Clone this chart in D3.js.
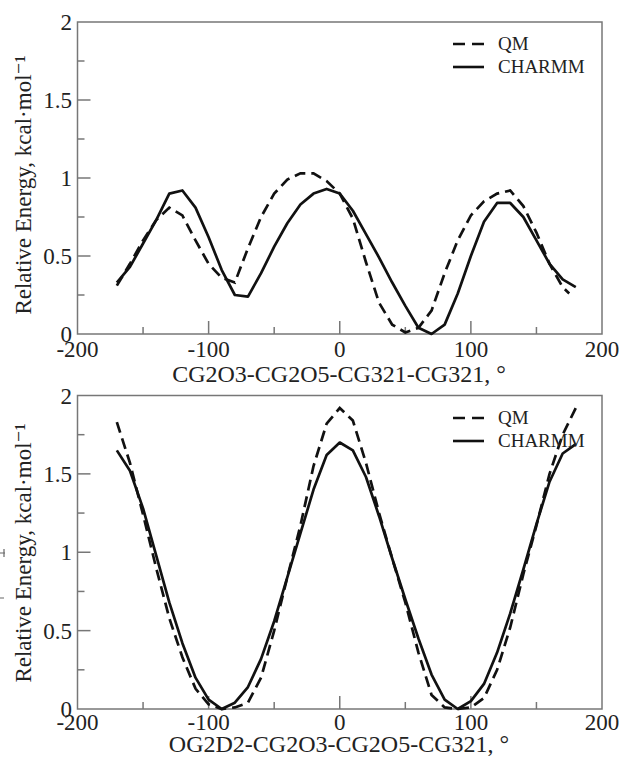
<!DOCTYPE html>
<html>
<head>
<meta charset="utf-8">
<script src="https://cdn.jsdelivr.net/npm/d3@7"></script>
<style>
  body { margin: 0; background: #fff; }
  svg text { font-family: "Liberation Serif", "Times New Roman", Times, "DejaVu Serif", serif; fill: #222; }
</style>
</head>
<body>
<div id="chart"></div>
<script>
// torsion angles, degrees
var angTop = [-170, -160, -150, -140, -130, -120, -110, -100, -90, -80, -70, -60, -50, -40, -30, -20, -10,
  0, 10, 20, 30, 40, 50, 60, 70, 80, 90, 100, 110, 120, 130, 140, 150, 160, 170];
var qmTopAng = angTop.concat([175]);
var qmTop = [0.31, 0.45, 0.60, 0.73, 0.81, 0.76, 0.60, 0.45, 0.36, 0.33, 0.55, 0.75, 0.90, 0.99, 1.03, 1.03, 0.98,
  0.90, 0.74, 0.46, 0.20, 0.06, 0.01, 0.04, 0.15, 0.39, 0.60, 0.76, 0.85, 0.90, 0.92, 0.82, 0.65, 0.45, 0.30, 0.26];
var chTopAng = angTop.concat([180]);
var chTop = [0.33, 0.43, 0.58, 0.73, 0.90, 0.92, 0.81, 0.62, 0.41, 0.25, 0.24, 0.39, 0.56, 0.71, 0.83, 0.90, 0.93,
  0.90, 0.79, 0.64, 0.49, 0.33, 0.18, 0.04, 0.00, 0.06, 0.26, 0.50, 0.72, 0.84, 0.84, 0.75, 0.60, 0.45, 0.35, 0.30];

var angBot = [-170, -160, -150, -140, -130, -120, -110, -100, -90, -80, -70, -60, -50, -40, -30, -20, -10,
  0, 10, 20, 30, 40, 50, 60, 70, 80, 90, 100, 110, 120, 130, 140, 150, 160, 170, 180];
var qmBot = [1.83, 1.57, 1.24, 0.90, 0.58, 0.33, 0.13, 0.03, 0.00, 0.01, 0.04, 0.20, 0.50, 0.84, 1.17, 1.55, 1.82,
  1.92, 1.84, 1.57, 1.25, 0.96, 0.68, 0.36, 0.09, 0.01, 0.00, 0.01, 0.07, 0.25, 0.52, 0.86, 1.17, 1.50, 1.75, 1.92];
var chBot = [1.65, 1.52, 1.28, 0.98, 0.68, 0.42, 0.20, 0.06, 0.00, 0.04, 0.14, 0.32, 0.56, 0.84, 1.12, 1.40, 1.62,
  1.70, 1.65, 1.48, 1.23, 0.96, 0.70, 0.45, 0.22, 0.06, 0.00, 0.05, 0.16, 0.36, 0.61, 0.89, 1.18, 1.45, 1.63, 1.69];

var xTicks = [-200, -100, 0, 100, 200];
var xMinor = [-150, -50, 50, 150];
var yTicks = [0, 0.5, 1, 1.5, 2];
var yMinor = [0.25, 0.75, 1.25, 1.75];
var yLabels = ["0", "0.5", "1", "1.5", "2"];
var seriesNames = ["QM", "CHARMM"];

var serif = "'Liberation Serif', 'Times New Roman', Times, 'DejaVu Serif', serif";

var W = 621, H = 760;
var svg = d3.select("#chart")
  .append("svg")
  .attr("width", W)
  .attr("height", H)
  .attr("font-family", serif);

function panel(cfg) {
  var x = d3.scaleLinear().domain([-200, 200]).range([77.5, 602]);
  var y = d3.scaleLinear().domain([0, 2]).range([cfg.bottom, cfg.top]);
  var g = svg.append("g");

  // frame
  g.append("rect")
    .attr("x", x(-200)).attr("y", y(2))
    .attr("width", x(200) - x(-200)).attr("height", y(0) - y(2))
    .attr("fill", "none").attr("stroke", "#777").attr("stroke-width", 1.5);

  // ticks pointing inside
  g.selectAll(".xt").data(xTicks.slice(1, -1)).enter().append("line")
    .attr("x1", function (d) { return x(d) }).attr("x2", function (d) { return x(d) })
    .attr("y1", y(0)).attr("y2", y(0) - 13)
    .attr("stroke", "#777").attr("stroke-width", 1.5);
  g.selectAll(".xm").data(xMinor).enter().append("line")
    .attr("x1", function (d) { return x(d) }).attr("x2", function (d) { return x(d) })
    .attr("y1", y(0)).attr("y2", y(0) - 7)
    .attr("stroke", "#777").attr("stroke-width", 1.5);
  g.selectAll(".yt").data(yTicks.slice(1, -1)).enter().append("line")
    .attr("x1", x(-200)).attr("x2", x(-200) + 13)
    .attr("y1", function (d) { return y(d) }).attr("y2", function (d) { return y(d) })
    .attr("stroke", "#777").attr("stroke-width", 1.5);
  g.selectAll(".ym").data(yMinor).enter().append("line")
    .attr("x1", x(-200)).attr("x2", x(-200) + 7)
    .attr("y1", function (d) { return y(d) }).attr("y2", function (d) { return y(d) })
    .attr("stroke", "#777").attr("stroke-width", 1.5);

  // tick labels
  g.selectAll(".xl").data(xTicks).enter().append("text")
    .attr("x", function (d) { return x(d) })
    .attr("y", y(0) + cfg.xlOff)
    .attr("text-anchor", "middle")
    .attr("font-family", serif)
    .style("font-size", "23px")
    .text(function (d) { return d });
  g.selectAll(".yl").data(yTicks).enter().append("text")
    .attr("x", 72)
    .attr("y", function (d) { return y(d) + 8 })
    .attr("text-anchor", "end")
    .attr("font-family", serif)
    .style("font-size", "23px")
    .text(function (d, i) { return yLabels[i] });

  // axis titles
  g.append("text")
    .attr("x", 339).attr("y", y(0) + cfg.xtOff)
    .attr("text-anchor", "middle")
    .attr("font-family", serif)
    .style("font-size", "24px")
    .text(cfg.xTitle);
  g.append("text")
    .attr("transform", "translate(31," + cfg.yMid + ") rotate(-90)")
    .attr("text-anchor", "middle")
    .attr("font-family", serif)
    .style("font-size", "23px")
    .text("Relative Energy, kcal\u00b7mol\u207b\u00b9");

  var line = d3.line()
    .x(function (d) { return x(d[0]) })
    .y(function (d) { return y(d[1]) });

  g.append("path")
    .datum(d3.zip(cfg.chAng, cfg.ch))
    .attr("fill", "none").attr("stroke", "#111").attr("stroke-width", 2.7)
    .attr("stroke-linejoin", "round")
    .attr("d", line);
  g.append("path")
    .datum(d3.zip(cfg.qmAng, cfg.qm))
    .attr("fill", "none").attr("stroke", "#111").attr("stroke-width", 2.7)
    .attr("stroke-dasharray", "11,6")
    .attr("d", line);

  // legend
  seriesNames.forEach(function (name, i) {
    var ly = cfg.legY + i * 23;
    g.append("line")
      .attr("x1", 453).attr("x2", 484)
      .attr("y1", ly).attr("y2", ly)
      .attr("stroke", "#111").attr("stroke-width", 2.6)
      .attr("stroke-dasharray", i === 0 ? "12,7" : null);
    g.append("text")
      .attr("x", 498).attr("y", ly + 6)
      .attr("font-family", serif)
      .style("font-size", "19px")
      .text(name);
  });
}

panel({ top: 22, bottom: 334, yMid: 185, legY: 44, xlOff: 23, xtOff: 48,
  xTitle: "CG2O3-CG2O5-CG321-CG321, \u00b0",
  qmAng: qmTopAng, qm: qmTop, chAng: chTopAng, ch: chTop });
panel({ top: 395.5, bottom: 709, yMid: 553, legY: 418, xlOff: 21, xtOff: 43,
  xTitle: "OG2D2-CG2O3-CG2O5-CG321, \u00b0",
  qmAng: angBot, qm: qmBot, chAng: angBot, ch: chBot });

// small crop leftovers at the left edge
svg.append("path")
  .attr("d", "M0,553H5M4,549V557M0,598H4")
  .attr("fill", "none").attr("stroke", "#666").attr("stroke-width", 1.2);
</script>
</body>
</html>
